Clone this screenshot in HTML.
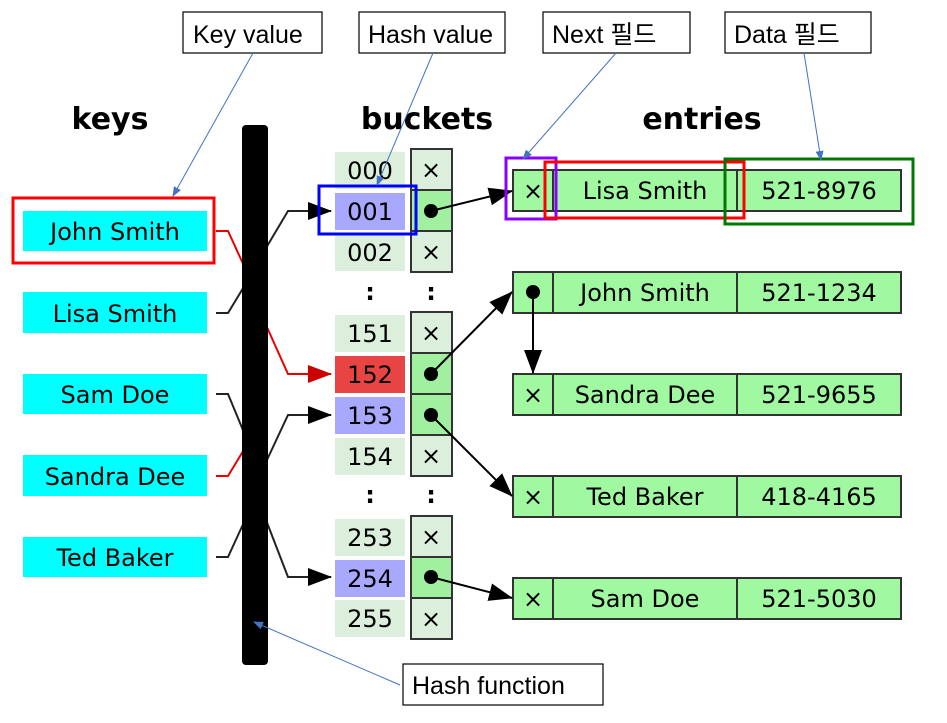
<!DOCTYPE html>
<html><head><meta charset="utf-8"><style>
html,body{margin:0;padding:0;background:#fff;}
svg{display:block;}
.d{font-family:"DejaVu Sans","Liberation Sans",sans-serif;font-size:24px;fill:#000;}
.a{font-family:"Liberation Sans","Noto Sans CJK KR",sans-serif;font-size:25px;fill:#000;}
.t{font-family:"DejaVu Sans","Liberation Sans",sans-serif;font-size:30px;font-weight:bold;fill:#000;}
</style></head><body>
<svg width="947" height="723" viewBox="0 0 947 723" xmlns="http://www.w3.org/2000/svg">
<defs>
<marker id="big" markerWidth="24" markerHeight="18" refX="23" refY="9" orient="auto" markerUnits="userSpaceOnUse"><path d="M0,0 L24,9 L0,18z" fill="#000"/></marker>
<marker id="bigr" markerWidth="24" markerHeight="18" refX="23" refY="9" orient="auto" markerUnits="userSpaceOnUse"><path d="M0,0 L24,9 L0,18z" fill="#c00"/></marker>
<marker id="bl" markerWidth="10" markerHeight="8" refX="9" refY="4" orient="auto" markerUnits="userSpaceOnUse"><path d="M0,0 L10,4 L0,8z" fill="#4472c4"/></marker>
</defs>
<text class="t" x="110" y="129" text-anchor="middle">keys</text>
<text class="t" x="427" y="129" text-anchor="middle">buckets</text>
<text class="t" x="702" y="129" text-anchor="middle">entries</text>
<g fill="#00ffff">
<rect x="23" y="211" width="184" height="40"/>
<rect x="23" y="292" width="184" height="41"/>
<rect x="23" y="374" width="184" height="40"/>
<rect x="23" y="455" width="184" height="41"/>
<rect x="23" y="537" width="184" height="40"/>
</g>
<g class="d" text-anchor="middle">
<text x="115" y="240">John Smith</text>
<text x="115" y="322">Lisa Smith</text>
<text x="115" y="403">Sam Doe</text>
<text x="115" y="485">Sandra Dee</text>
<text x="115" y="566">Ted Baker</text>
</g>
<g fill="none" stroke-width="2">
<path d="M216,231 H228 L245,268" stroke="#e00"/>
<path d="M216,313 H228 L245,285" stroke="#222"/>
<path d="M216,394 H228 L245,435" stroke="#222"/>
<path d="M216,476 H228 L245,448" stroke="#e00"/>
<path d="M216,557 H228 L245,520" stroke="#222"/>
<path d="M266,248 L288,211 H331" stroke="#222" marker-end="url(#big)"/>
<path d="M266,325 L288,374 H331" stroke="#e00" marker-end="url(#bigr)"/>
<path d="M266,462 L288,415 H331" stroke="#222" marker-end="url(#big)"/>
<path d="M266,520 L288,577 H331" stroke="#222" marker-end="url(#big)"/>
</g>
<rect x="242" y="125" width="26" height="540" rx="4" fill="#000"/>
<g>
<rect x="335" y="152" width="70" height="37" fill="#dcefdc"/>
<rect x="335" y="193" width="70" height="37" fill="#a8a8ff"/>
<rect x="335" y="234" width="70" height="37" fill="#dcefdc"/>
<rect x="335" y="315" width="70" height="37" fill="#dcefdc"/>
<rect x="335" y="356" width="70" height="37" fill="#e84444"/>
<rect x="335" y="397" width="70" height="37" fill="#a8a8ff"/>
<rect x="335" y="438" width="70" height="37" fill="#dcefdc"/>
<rect x="335" y="519" width="70" height="37" fill="#dcefdc"/>
<rect x="335" y="560" width="70" height="37" fill="#a8a8ff"/>
<rect x="335" y="600" width="70" height="37" fill="#dcefdc"/>
</g>
<g class="d" text-anchor="middle">
<text x="370" y="179">000</text><text x="370" y="220">001</text><text x="370" y="261">002</text>
<text x="370" y="342">151</text><text x="370" y="383">152</text><text x="370" y="424">153</text><text x="370" y="465">154</text>
<text x="370" y="546">253</text><text x="370" y="587">254</text><text x="370" y="627">255</text>
<text x="370" y="300" font-weight="bold">:</text><text x="431" y="300" font-weight="bold">:</text>
<text x="370" y="503" font-weight="bold">:</text><text x="431" y="503" font-weight="bold">:</text>
</g>
<g stroke="#333" stroke-width="2">
<rect x="411" y="149" width="41" height="41" fill="#dcefdc"/>
<rect x="411" y="190" width="41" height="41" fill="#a0f0a0"/>
<rect x="411" y="231" width="41" height="41" fill="#dcefdc"/>
<rect x="411" y="312" width="41" height="41" fill="#dcefdc"/>
<rect x="411" y="353" width="41" height="41" fill="#a0f0a0"/>
<rect x="411" y="394" width="41" height="41" fill="#a0f0a0"/>
<rect x="411" y="435" width="41" height="41" fill="#dcefdc"/>
<rect x="411" y="516" width="41" height="41" fill="#dcefdc"/>
<rect x="411" y="557" width="41" height="41" fill="#a0f0a0"/>
<rect x="411" y="598" width="41" height="41" fill="#dcefdc"/>
</g>
<g class="d" text-anchor="middle">
<text x="431" y="178">×</text><text x="431" y="260">×</text><text x="431" y="341">×</text>
<text x="431" y="464">×</text><text x="431" y="545">×</text><text x="431" y="627">×</text>
</g>
<g stroke="#333" stroke-width="2" fill="#a0f8a0">
<rect x="513" y="170" width="388" height="41"/><line x1="553" y1="170" x2="553" y2="211"/><line x1="737" y1="170" x2="737" y2="211"/>
<rect x="513" y="272" width="388" height="41"/><line x1="553" y1="272" x2="553" y2="313"/><line x1="737" y1="272" x2="737" y2="313"/>
<rect x="513" y="374" width="388" height="41"/><line x1="553" y1="374" x2="553" y2="415"/><line x1="737" y1="374" x2="737" y2="415"/>
<rect x="513" y="476" width="388" height="41"/><line x1="553" y1="476" x2="553" y2="517"/><line x1="737" y1="476" x2="737" y2="517"/>
<rect x="513" y="578" width="388" height="41"/><line x1="553" y1="578" x2="553" y2="619"/><line x1="737" y1="578" x2="737" y2="619"/>
</g>
<g class="d" text-anchor="middle">
<text x="533" y="199">×</text><text x="645" y="199">Lisa Smith</text><text x="819" y="199">521-8976</text>
<text x="645" y="301">John Smith</text><text x="819" y="301">521-1234</text>
<text x="533" y="403">×</text><text x="645" y="403">Sandra Dee</text><text x="819" y="403">521-9655</text>
<text x="533" y="505">×</text><text x="645" y="505">Ted Baker</text><text x="819" y="505">418-4165</text>
<text x="533" y="607">×</text><text x="645" y="607">Sam Doe</text><text x="819" y="607">521-5030</text>
</g>
<g fill="#000"><circle cx="431" cy="211" r="7"/><circle cx="431" cy="374" r="7"/><circle cx="431" cy="415" r="7"/><circle cx="431" cy="577" r="7"/><circle cx="533" cy="292" r="7"/></g>
<g stroke="#000" stroke-width="2" fill="none">
<line x1="431" y1="211" x2="512" y2="191" marker-end="url(#big)"/>
<line x1="431" y1="374" x2="512" y2="292" marker-end="url(#big)"/>
<line x1="431" y1="415" x2="512" y2="496" marker-end="url(#big)"/>
<line x1="431" y1="577" x2="512" y2="598" marker-end="url(#big)"/>
<line x1="533" y1="292" x2="533" y2="373" marker-end="url(#big)"/>
</g>
<g fill="none" stroke-width="3">
<rect x="13" y="198" width="201" height="65" stroke="#f00"/>
<rect x="319" y="186" width="97" height="48" stroke="#00f"/>
<rect x="506" y="158" width="50" height="61" stroke="#80f"/>
<rect x="545" y="162" width="199" height="56" stroke="#f00"/>
<rect x="725" y="159" width="188" height="65" stroke="#070"/>
</g>
<g fill="#fff" stroke="#000" stroke-width="1.2">
<rect x="183" y="12" width="139" height="41"/>
<rect x="359" y="12" width="146" height="41"/>
<rect x="543" y="12" width="147" height="41"/>
<rect x="725" y="12" width="146" height="41"/>
<rect x="403" y="664" width="200" height="41"/>
</g>
<g class="a">
<text x="193" y="43">Key value</text>
<text x="368" y="43">Hash value</text>
<text x="552" y="43">Next 필드</text>
<text x="734" y="43">Data 필드</text>
<text x="412" y="694">Hash function</text>
</g>
<g stroke="#4472c4" stroke-width="1" fill="none">
<line x1="253" y1="53" x2="173" y2="196" marker-end="url(#bl)"/>
<line x1="433" y1="53" x2="377" y2="185" marker-end="url(#bl)"/>
<line x1="616" y1="53" x2="523" y2="159" marker-end="url(#bl)"/>
<line x1="804" y1="53" x2="821" y2="160" marker-end="url(#bl)"/>
<line x1="400" y1="685" x2="254" y2="622" marker-end="url(#bl)"/>
</g>
</svg>
</body></html>
